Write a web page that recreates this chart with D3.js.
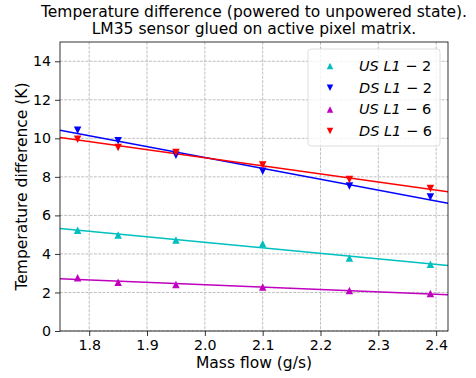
<!DOCTYPE html>
<html>
<head>
<meta charset="utf-8">
<script src="https://cdn.jsdelivr.net/npm/d3@7"></script>
<style>
  html, body { margin: 0; padding: 0; background: #fff; }
  svg { display: block; font-family: "DejaVu Sans", sans-serif; }
</style>
</head>
<body>
<svg id="chart" width="476" height="378"></svg>
<script>
// Mass flow (g/s) at which each temperature difference was measured
const massFlow = [1.78, 1.85, 1.95, 2.10, 2.25, 2.39];

// Temperature difference (K), powered vs unpowered state
const usL12 = [5.23, 4.98, 4.72, 4.53, 3.79, 3.46];
const dsL12 = [10.42, 9.88, 9.12, 8.29, 7.53, 6.96];
const usL16 = [2.77, 2.53, 2.41, 2.28, 2.10, 1.94];
const dsL16 = [9.95, 9.52, 9.26, 8.61, 7.86, 7.39];

const seriesNames = ["US", "DS", "US", "DS"];
const seriesSubs = ["L1", "L1", "L1", "L1"];
const seriesNums = ["2", "2", "6", "6"];
const seriesColors = ["#00bfbf", "#0000ff", "#bf00bf", "#ff0000"];
const seriesMarkers = ["up", "down", "up", "down"];
const seriesValues = [usL12, dsL12, usL16, dsL16];

const xTicks = [1.8, 1.9, 2.0, 2.1, 2.2, 2.3, 2.4];
const yTicks = [0, 2, 4, 6, 8, 10, 12, 14];

const titleLines = [
  "Temperature difference (powered to unpowered state).",
  "LM35 sensor glued on active pixel matrix."
];

const svg = d3.select("#chart");
const plot = { left: 60, right: 448, top: 42, bottom: 331 };

const x = d3.scaleLinear().domain([1.7495, 2.4205]).range([plot.left, plot.right]);
const y = d3.scaleLinear().domain([0, 15]).range([plot.bottom, plot.top]);

// grid
const grid = svg.append("g").attr("stroke", "#b0b0b0").attr("stroke-width", 0.8)
  .attr("stroke-dasharray", "2.96,1.28");
xTicks.forEach(t => grid.append("line")
  .attr("x1", x(t)).attr("x2", x(t)).attr("y1", plot.top).attr("y2", plot.bottom));
yTicks.forEach(t => grid.append("line")
  .attr("x1", plot.left).attr("x2", plot.right).attr("y1", y(t)).attr("y2", y(t)));

// axes
const xAxis = d3.axisBottom(x).tickValues(xTicks).tickFormat(d3.format(".1f"))
  .tickSize(5).tickPadding(4);
const yAxis = d3.axisLeft(y).tickValues(yTicks).tickFormat(d3.format("d"))
  .tickSize(5).tickPadding(4);

function styleAxis(g) {
  g.select(".domain").remove();
  g.selectAll(".tick line").attr("stroke", "#000").attr("stroke-width", 0.8);
  g.selectAll(".tick text").attr("fill", "#000")
    .style("font-size", "14.2px").style("font-family", "DejaVu Sans");
}
svg.append("g").attr("transform", `translate(0,${plot.bottom})`).call(xAxis).call(styleAxis);
svg.append("g").attr("transform", `translate(${plot.left},0)`).call(yAxis).call(styleAxis);

// data: least-squares fit lines across the axis range, then markers
const clipId = "plotclip";
svg.append("clipPath").attr("id", clipId).append("rect")
  .attr("x", plot.left).attr("y", plot.top)
  .attr("width", plot.right - plot.left).attr("height", plot.bottom - plot.top);

function fit(xs, ys) {
  const mx = d3.mean(xs), my = d3.mean(ys);
  let sxy = 0, sxx = 0;
  xs.forEach((v, i) => { sxy += (v - mx) * (ys[i] - my); sxx += (v - mx) * (v - mx); });
  const b = sxy / sxx;
  return v => my + b * (v - mx);
}

function triPath(dir, s) {
  const h = s * 0.5;
  return dir === "up"
    ? `M0,${-h}L${h},${h}L${-h},${h}Z`
    : `M0,${h}L${h},${-h}L${-h},${-h}Z`;
}

const dataG = svg.append("g").attr("clip-path", `url(#${clipId})`);
seriesValues.forEach((vals, si) => {
  const f = fit(massFlow, vals);
  const [x0, x1] = x.domain();
  dataG.append("path")
    .attr("d", d3.line().x(d => x(d)).y(d => y(f(d)))([x0, x1]))
    .attr("fill", "none").attr("stroke", seriesColors[si]).attr("stroke-width", 1.5);
});
seriesValues.forEach((vals, si) => {
  dataG.selectAll(null).data(vals).enter().append("path")
    .attr("transform", (d, i) => `translate(${x(massFlow[i])},${y(d)})`)
    .attr("d", triPath(seriesMarkers[si], 7.5))
    .attr("fill", seriesColors[si]);
});

// frame
svg.append("rect").attr("x", plot.left).attr("y", plot.top)
  .attr("width", plot.right - plot.left).attr("height", plot.bottom - plot.top)
  .attr("fill", "none").attr("stroke", "#000").attr("stroke-width", 0.8);

// titles
const title = svg.append("text").attr("text-anchor", "middle")
  .style("font-size", "15.5px").attr("fill", "#000");
titleLines.forEach((t, i) => title.append("tspan")
  .attr("x", (plot.left + plot.right) / 2).attr("y", 17 + i * 16.5).text(t));

svg.append("text").attr("x", (plot.left + plot.right) / 2).attr("y", 368)
  .attr("text-anchor", "middle").style("font-size", "15.5px").text("Mass flow (g/s)");
svg.append("text").attr("transform", `translate(27,${(plot.top + plot.bottom) / 2}) rotate(-90)`)
  .attr("text-anchor", "middle").style("font-size", "15.5px").text("Temperature difference (K)");

// legend
const legend = svg.append("g");
legend.append("rect").attr("x", 308).attr("y", 49).attr("width", 132).attr("height", 97)
  .attr("rx", 3).attr("fill", "#fff").attr("fill-opacity", 0.8)
  .attr("stroke", "#d6d6d6").attr("stroke-width", 0.8);
seriesNames.forEach((n, i) => {
  const ry = 66 + i * 21.7;
  legend.append("path").attr("transform", `translate(330,${ry})`)
    .attr("d", triPath(seriesMarkers[i], 6.5)).attr("fill", seriesColors[i]);
  const t = legend.append("text").attr("x", 359).attr("y", ry + 5)
    .style("font-size", "14.5px").attr("fill", "#000");
  t.append("tspan").style("font-style", "italic").text(n + " " + seriesSubs[i]);
  t.append("tspan").text("\u00a0\u2212\u00a0" + seriesNums[i]);
});
</script>
</body>
</html>
